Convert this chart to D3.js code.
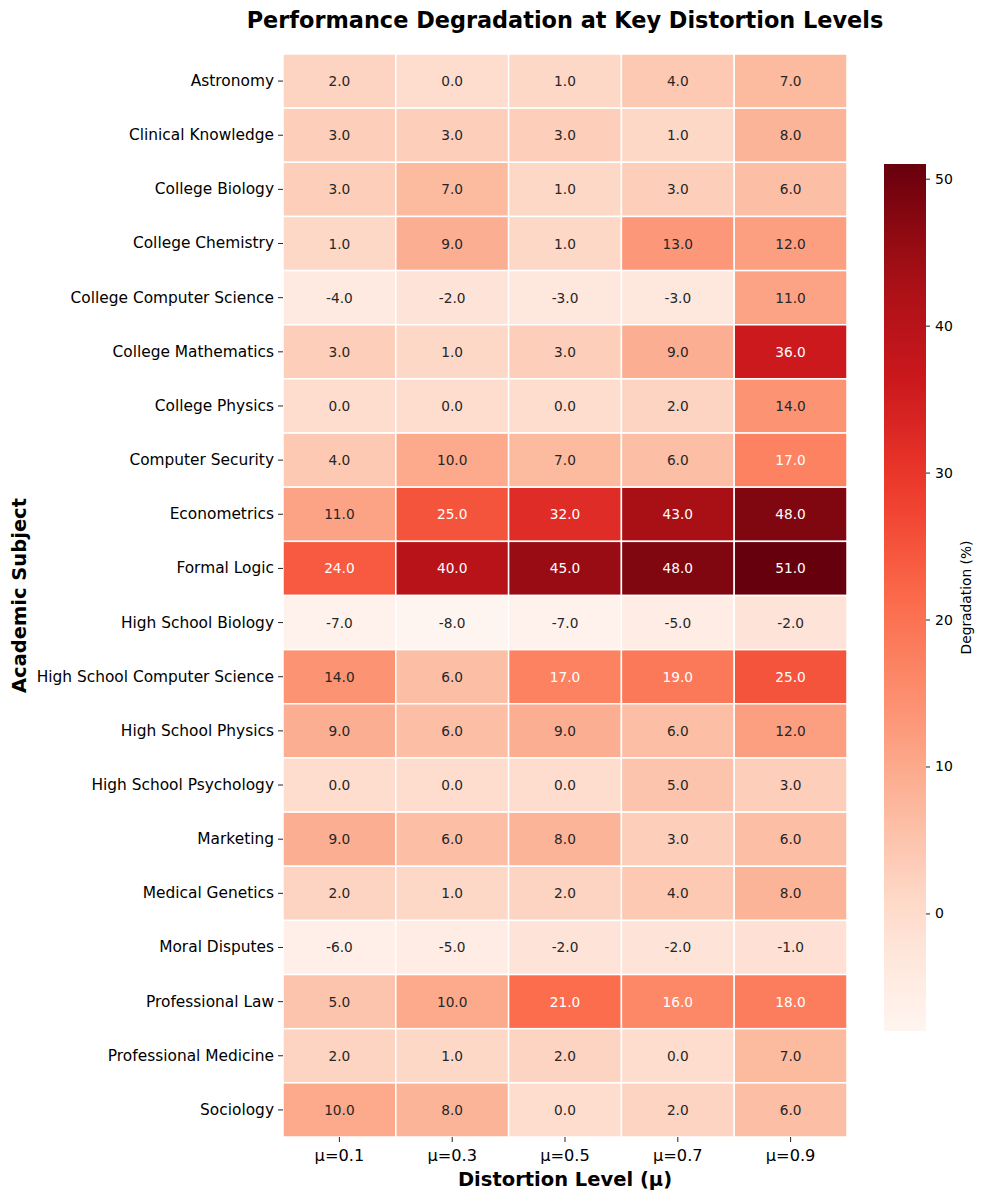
<!DOCTYPE html>
<html>
<head>
<meta charset="utf-8">
<script src="https://cdn.jsdelivr.net/npm/d3@7"></script>
<style>
body { margin: 0; background: #fff; }
text { font-family: "DejaVu Sans", sans-serif; }
</style>
</head>
<body>
<svg id="chart" width="984" height="1200"></svg>
<script>
const subjects = ["Astronomy","Clinical Knowledge","College Biology","College Chemistry","College Computer Science","College Mathematics","College Physics","Computer Security","Econometrics","Formal Logic","High School Biology","High School Computer Science","High School Physics","High School Psychology","Marketing","Medical Genetics","Moral Disputes","Professional Law","Professional Medicine","Sociology"];
const levels = ["μ=0.1","μ=0.3","μ=0.5","μ=0.7","μ=0.9"];
const mu01 = [2,3,3,1,-4,3,0,4,11,24,-7,14,9,0,9,2,-6,5,2,10];
const mu03 = [0,3,7,9,-2,1,0,10,25,40,-8,6,6,0,6,1,-5,10,1,8];
const mu05 = [1,3,1,1,-3,3,0,7,32,45,-7,17,9,0,8,2,-2,21,2,0];
const mu07 = [4,1,3,13,-3,9,2,6,43,48,-5,19,6,5,3,4,-2,16,0,2];
const mu09 = [7,8,6,12,11,36,14,17,48,51,-2,25,12,3,6,8,-1,18,7,6];
const series = [mu01, mu03, mu05, mu07, mu09];
const cbTicks = [0,10,20,30,40,50];
const vmin = -8, vmax = 51;

const redsStops = ["#fff5f0","#fee0d2","#fcbba1","#fc9272","#fb6a4a","#ef3b2c","#cb181d","#a50f15","#67000d"];
const colorT = d3.scaleLinear().domain(d3.range(9).map(i => i / 8)).range(redsStops).interpolate(d3.interpolateRgb);
const norm = d3.scaleLinear().domain([vmin, vmax]).range([0, 1]).clamp(true);
const color = v => colorT(norm(v));

function lum(c) {
  const rgb = d3.rgb(c);
  const f = x => { x /= 255; return x <= 0.03928 ? x / 12.92 : Math.pow((x + 0.055) / 1.055, 2.4); };
  return 0.2126 * f(rgb.r) + 0.7152 * f(rgb.g) + 0.0722 * f(rgb.b);
}

const svg = d3.select("#chart");
const L = 283, R = 847, T = 54, B = 1137;
const x = d3.scaleBand().domain(levels).range([L, R]);
const y = d3.scaleBand().domain(subjects).range([T, B]);

const cells = [];
series.forEach((arr, j) => arr.forEach((v, i) => cells.push({s: subjects[i], l: levels[j], v})));

svg.append("g").selectAll("rect").data(cells).join("rect")
  .attr("x", d => x(d.l)).attr("y", d => y(d.s))
  .attr("width", x.bandwidth()).attr("height", y.bandwidth())
  .attr("fill", d => color(d.v))
  .attr("stroke", "#fff").attr("stroke-width", 1.5);

svg.append("g").selectAll("text").data(cells).join("text")
  .attr("x", d => x(d.l) + x.bandwidth() / 2)
  .attr("y", d => y(d.s) + y.bandwidth() / 2)
  .attr("text-anchor", "middle").attr("dominant-baseline", "central")
  .attr("font-size", 13.7)
  .attr("fill", d => lum(color(d.v)) > 0.408 ? "#262626" : "#ffffff")
  .text(d => d.v.toFixed(1));

// y axis
const yAxis = svg.append("g").attr("transform", `translate(${L},0)`)
  .call(d3.axisLeft(y).tickSize(5).tickPadding(4));
yAxis.select(".domain").remove();
yAxis.selectAll("text").attr("font-size", 15.4).attr("fill", "#000").style("font-family", "DejaVu Sans");
yAxis.selectAll("line").attr("stroke", "#222");

// x axis
const xAxis = svg.append("g").attr("transform", `translate(0,${B})`)
  .call(d3.axisBottom(x).tickSize(5).tickPadding(7));
xAxis.select(".domain").remove();
xAxis.selectAll("text").attr("font-size", 16.2).attr("fill", "#000").style("font-family", "DejaVu Sans");
xAxis.selectAll("line").attr("stroke", "#222");

// titles
svg.append("text").attr("x", (L + R) / 2).attr("y", 20)
  .attr("text-anchor", "middle").attr("font-size", 22.4).attr("font-weight", "bold")
  .attr("dominant-baseline", "central")
  .text("Performance Degradation at Key Distortion Levels");
svg.append("text").attr("x", (L + R) / 2).attr("y", 1179)
  .attr("text-anchor", "middle").attr("font-size", 19.5).attr("font-weight", "bold")
  .attr("dominant-baseline", "central")
  .text("Distortion Level (μ)");
svg.append("text").attr("transform", `translate(19,${(T + B) / 2}) rotate(-90)`)
  .attr("text-anchor", "middle").attr("font-size", 19.5).attr("font-weight", "bold")
  .attr("dominant-baseline", "central")
  .text("Academic Subject");

// colorbar
const cbL = 884, cbW = 42, cbT = 164, cbB = 1031;
const cy = d3.scaleLinear().domain([vmin, vmax]).range([cbB, cbT]);
const defs = svg.append("defs");
const grad = defs.append("linearGradient").attr("id", "cbgrad")
  .attr("x1", 0).attr("y1", 1).attr("x2", 0).attr("y2", 0);
d3.range(0, 1.0001, 0.05).forEach(t => grad.append("stop").attr("offset", t).attr("stop-color", colorT(t)));
svg.append("rect").attr("x", cbL).attr("y", cbT).attr("width", cbW).attr("height", cbB - cbT)
  .attr("fill", "url(#cbgrad)");
const cAxis = svg.append("g").attr("transform", `translate(${cbL + cbW},0)`)
  .call(d3.axisRight(cy).tickValues(cbTicks).tickSize(4).tickPadding(5));
cAxis.select(".domain").remove();
cAxis.selectAll("text").attr("font-size", 14).attr("fill", "#000").style("font-family", "DejaVu Sans");
cAxis.selectAll("line").attr("stroke", "#222");
svg.append("text").attr("transform", `translate(966,${(cbT + cbB) / 2}) rotate(-90)`)
  .attr("text-anchor", "middle").attr("font-size", 13.8).attr("dominant-baseline", "central")
  .text("Degradation (%)");
</script>
</body>
</html>
